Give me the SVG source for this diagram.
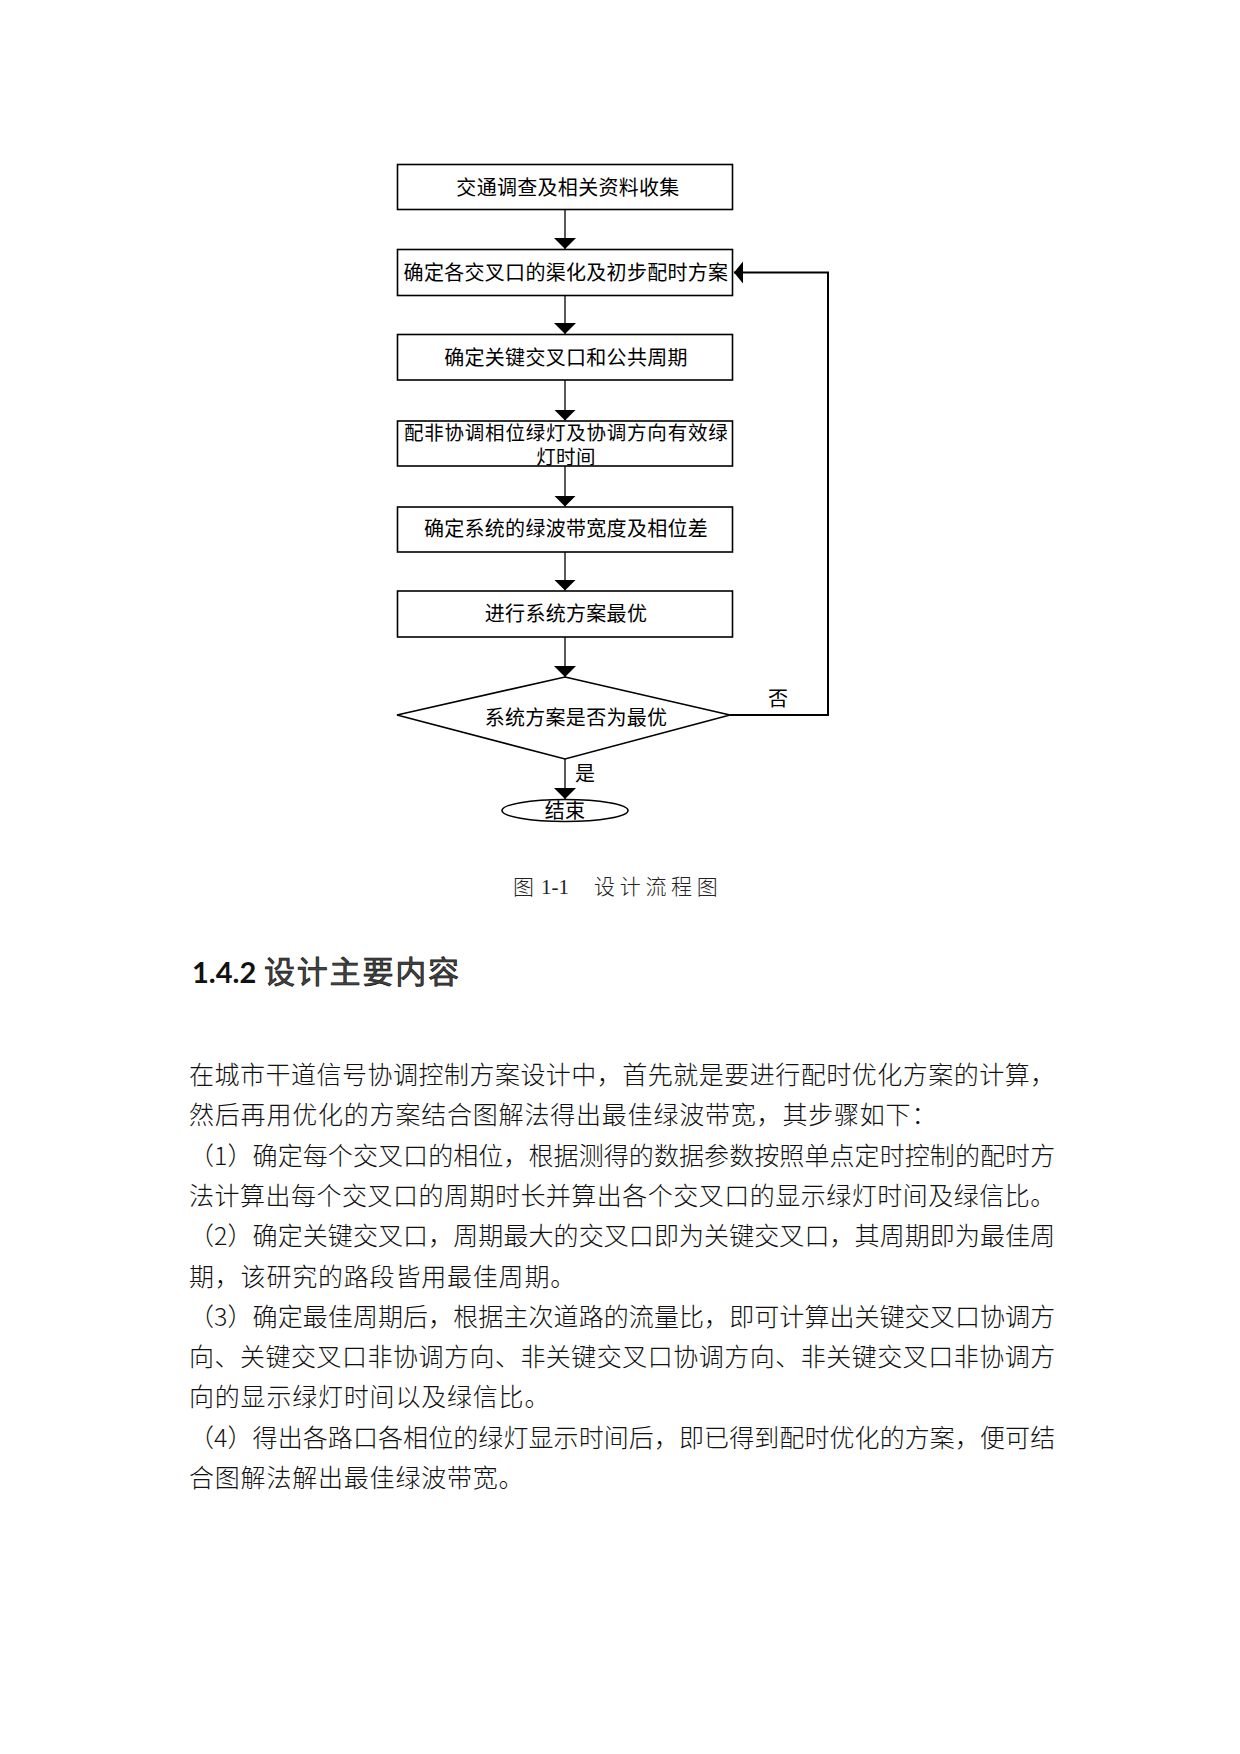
<svg xmlns="http://www.w3.org/2000/svg" width="1240" height="1754" viewBox="0 0 1240 1754">
<style>
  .box { fill: #fff; stroke: #000; stroke-width: 1.6; }
  .conn { fill: none; stroke: #000; stroke-width: 1.3; }
  .loop { fill: none; stroke: #000; stroke-width: 2; }
  .ct { font-family: "Noto Sans CJK SC", "Noto Sans CJK TC", sans-serif; font-size: 20px; fill: #000; letter-spacing: 0.3px; }
  .sm { font-size: 19.5px; }
  .mid { text-anchor: middle; }
  .cap { font-family: "Liberation Serif", "Noto Sans CJK SC", serif; font-size: 21px; fill: #222; font-weight: 300; }
  .capcjk { font-family: "Noto Sans CJK SC", sans-serif; font-size: 21px; fill: #222; font-weight: 300; letter-spacing: 4.7px; }
  .hnum { font-family: Lato, "Liberation Sans", sans-serif; font-size: 29px; font-weight: 700; fill: #111; }
  .hcjk { font-family: "Noto Sans CJK SC", sans-serif; font-size: 31px; font-weight: 400; fill: #444; stroke: #111; stroke-width: 0.7px; }
  .body { font-family: "Noto Sans CJK SC", "Noto Sans CJK TC", sans-serif; font-size: 25px; fill: #111; font-weight: 300; letter-spacing: 0.8px; }
</style>
<defs>
  <marker id="ah" markerUnits="userSpaceOnUse" markerWidth="12" markerHeight="24" viewBox="0 -12 12 24" refX="11" refY="0" orient="auto">
    <path d="M0,-11 L11,0 L0,11 z" fill="#000"/>
  </marker>
  <marker id="ahs" markerUnits="userSpaceOnUse" markerWidth="10" markerHeight="24" viewBox="0 -12 10 24" refX="9" refY="0" orient="auto">
    <path d="M0,-11 L9,0 L0,11 z" fill="#000"/>
  </marker>
</defs>
<rect width="1240" height="1754" fill="#fff"/>

<g id="connectors">
  <path class="conn" d="M565,209.5 V249" marker-end="url(#ah)"/>
  <path class="conn" d="M565,295.5 V334" marker-end="url(#ah)"/>
  <path class="conn" d="M565,380 V420.5" marker-end="url(#ah)"/>
  <path class="conn" d="M565,466 V506.5" marker-end="url(#ah)"/>
  <path class="conn" d="M565,552 V590.5" marker-end="url(#ah)"/>
  <path class="conn" d="M565,637 V677" marker-end="url(#ah)"/>
  <path class="conn" d="M565,759 V799" marker-end="url(#ah)"/>
  <path class="loop" d="M730,715 H828 V272.5 H734" marker-end="url(#ahs)"/>
  <text class="ct" x="768" y="706">否</text>
  <text class="ct" x="575" y="781">是</text>
</g>

<g id="n1">
  <rect class="box" x="397.5" y="164.5" width="335" height="45"/>
  <text class="ct mid" x="568" y="195">交通调查及相关资料收集</text>
</g>
<g id="n2">
  <rect class="box" x="397.5" y="249.5" width="335" height="46"/>
  <text class="ct mid" x="566" y="280">确定各交叉口的渠化及初步配时方案</text>
</g>
<g id="n3">
  <rect class="box" x="397.5" y="334.5" width="335" height="45.5"/>
  <text class="ct mid" x="566" y="365">确定关键交叉口和公共周期</text>
</g>
<g id="n4">
  <rect class="box" x="397.5" y="421" width="335" height="45"/>
  <text class="ct sm mid" x="566" y="439.5" textLength="324" lengthAdjust="spacing">配非协调相位绿灯及协调方向有效绿</text>
  <text class="ct sm mid" x="566" y="463.5">灯时间</text>
</g>
<g id="n5">
  <rect class="box" x="397.5" y="507" width="335" height="45"/>
  <text class="ct mid" x="566" y="536">确定系统的绿波带宽度及相位差</text>
</g>
<g id="n6">
  <rect class="box" x="397.5" y="591" width="335" height="46"/>
  <text class="ct mid" x="566" y="621">进行系统方案最优</text>
</g>
<g id="n7">
  <polygon class="box" points="565,677 730,715 565,759 397,715"/>
  <text class="ct mid" x="576" y="725">系统方案是否为最优</text>
</g>
<g id="n8">
  <ellipse class="box" cx="565" cy="810.5" rx="63" ry="11"/>
  <text class="ct mid" x="565" y="818">结束</text>
</g>

<g id="caption">
  <text class="capcjk" x="513" y="894" style="letter-spacing:0">图</text>
  <text class="cap" x="541" y="894">1-1</text>
  <text class="capcjk" x="594" y="894">设计流程图</text>
</g>

<g id="heading">
  <text class="hnum" x="192" y="983">1.4.2</text>
  <text class="hcjk" x="264" y="983" textLength="195" lengthAdjust="spacing">设计主要内容</text>
</g>

<g id="body">
  <text class="body" x="189" y="1084" textLength="867" lengthAdjust="spacing">在城市干道信号协调控制方案设计中，首先就是要进行配时优化方案的计算，</text>
  <text class="body" x="189" y="1124.3">然后再用优化的方案结合图解法得出最佳绿波带宽，其步骤如下：</text>
  <text class="body" x="189" y="1164.6" textLength="867" lengthAdjust="spacing">（1）确定每个交叉口的相位，根据测得的数据参数按照单点定时控制的配时方</text>
  <text class="body" x="189" y="1204.9" textLength="867" lengthAdjust="spacing">法计算出每个交叉口的周期时长并算出各个交叉口的显示绿灯时间及绿信比。</text>
  <text class="body" x="189" y="1245.2" textLength="867" lengthAdjust="spacing">（2）确定关键交叉口，周期最大的交叉口即为关键交叉口，其周期即为最佳周</text>
  <text class="body" x="189" y="1285.5">期，该研究的路段皆用最佳周期。</text>
  <text class="body" x="189" y="1325.8" textLength="867" lengthAdjust="spacing">（3）确定最佳周期后，根据主次道路的流量比，即可计算出关键交叉口协调方</text>
  <text class="body" x="189" y="1366.1" textLength="867" lengthAdjust="spacing">向、关键交叉口非协调方向、非关键交叉口协调方向、非关键交叉口非协调方</text>
  <text class="body" x="189" y="1406.4">向的显示绿灯时间以及绿信比。</text>
  <text class="body" x="189" y="1446.7" textLength="867" lengthAdjust="spacing">（4）得出各路口各相位的绿灯显示时间后，即已得到配时优化的方案，便可结</text>
  <text class="body" x="189" y="1487">合图解法解出最佳绿波带宽。</text>
</g>
</svg>
